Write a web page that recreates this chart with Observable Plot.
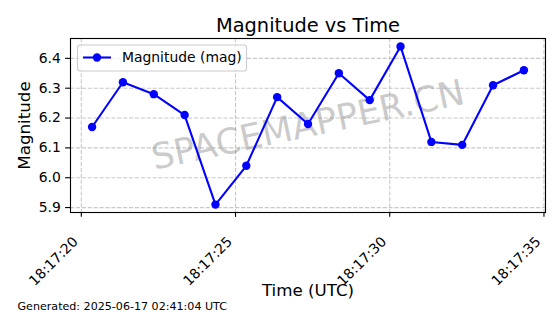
<!DOCTYPE html>
<html>
<head>
<meta charset="utf-8">
<script src="https://cdn.jsdelivr.net/npm/d3@7"></script>
<script src="https://cdn.jsdelivr.net/npm/@observablehq/plot@0.6"></script>
<style>
  html, body { margin: 0; padding: 0; background: white; }
  #chart svg { display: block; }
</style>
</head>
<body>
<div id="chart"></div>
<script>
// ---- data ----
const baseDate = "2025-06-16";
const times = ["18:17:20.35","18:17:21.35","18:17:22.35","18:17:23.35","18:17:24.35",
               "18:17:25.35","18:17:26.35","18:17:27.35","18:17:28.35","18:17:29.35",
               "18:17:30.35","18:17:31.35","18:17:32.35","18:17:33.35","18:17:34.35"];
const magnitudes = [6.17, 6.32, 6.28, 6.21, 5.91, 6.04, 6.27, 6.18, 6.35, 6.26, 6.44, 6.12, 6.11, 6.31, 6.36];
const xTickLabels = ["18:17:20","18:17:25","18:17:30","18:17:35"];
const yTickValues = [5.9, 6.0, 6.1, 6.2, 6.3, 6.4];
const titleText = "Magnitude vs Time";
const xLabel = "Time (UTC)";
const yLabel = "Magnitude";
const legendLabel = "Magnitude (mag)";
const watermark = "SPACEMAPPER.CN";
const footer = "Generated: 2025-06-17 02:41:04 UTC";

const parse = s => new Date(`${baseDate}T${s}Z`);
const data = times.map((t, i) => ({time: parse(t), mag: magnitudes[i]}));
const xTicks = xTickLabels.map(parse);

// matplotlib-like 5% autoscale margins
const [t0, t1] = d3.extent(data, d => +d.time);
const [m0, m1] = d3.extent(magnitudes);
const xDomain = [new Date(t0 - 0.05 * (t1 - t0)), new Date(t1 + 0.05 * (t1 - t0))];
const yDomain = [m0 - 0.05 * (m1 - m0), m1 + 0.05 * (m1 - m0)];

const fmt = d3.utcFormat("%H:%M:%S");
const blue = "#0000ff";
const font = "DejaVu Sans";

const chart = Plot.plot({
  width: 560,
  height: 314,
  marginLeft: 70,
  marginRight: 15,
  marginTop: 38,
  marginBottom: 102,
  style: {fontFamily: font, fontSize: "13.9px", background: "white", color: "black", overflow: "visible"},
  x: {type: "utc", domain: xDomain},
  y: {domain: yDomain},
  marks: [
    Plot.gridX(xTicks, {stroke: "#b0b0b0", strokeOpacity: 0.7, strokeWidth: 1.1, strokeDasharray: "4.1,1.8"}),
    Plot.gridY(yTickValues, {stroke: "#b0b0b0", strokeOpacity: 0.7, strokeWidth: 1.1, strokeDasharray: "4.1,1.8"}),
    Plot.text([watermark], {frameAnchor: "middle", text: d => d, rotate: -12, fontSize: 35.5, fill: "#808080", fillOpacity: 0.42}),
    Plot.line(data, {x: "time", y: "mag", stroke: blue, strokeWidth: 2.08}),
    Plot.dot(data, {x: "time", y: "mag", r: 4.2, fill: blue, stroke: "none"}),
    Plot.frame({stroke: "black", strokeWidth: 1.11}),
    Plot.axisX(xTicks, {tickSize: 4.86, tickFormat: () => "", label: null, strokeWidth: 1.11}),
    Plot.text(xTicks, {x: d => d, text: d => fmt(d), frameAnchor: "bottom", dy: 30, dx: -2.5, rotate: -45, textAnchor: "end", lineAnchor: "bottom", fontSize: 13.9}),
    Plot.axisY(yTickValues, {tickSize: 4.86, tickPadding: 4.86, tickFormat: d3.format(".1f"), label: null, fontSize: 13.9, strokeWidth: 1.11}),
    Plot.text([titleText], {frameAnchor: "top", text: d => d, dy: -7, lineAnchor: "bottom", fontSize: 19.4}),
    Plot.text([xLabel], {frameAnchor: "bottom", text: d => d, dy: 83, lineAnchor: "bottom", fontSize: 16.7}),
    Plot.text([yLabel], {frameAnchor: "left", text: d => d, dx: -41, rotate: -90, textAnchor: "middle", lineAnchor: "bottom", fontSize: 16.7}),
    Plot.text([footer], {frameAnchor: "bottom-left", text: d => d, dx: -53, dy: 97, textAnchor: "start", lineAnchor: "bottom", fontSize: 11.1})
  ]
});

document.getElementById("chart").appendChild(chart);

// legend (matplotlib style, upper-left inside axes)
const svg = d3.select(chart);
const lg = svg.append("g").attr("font-family", font).attr("font-size", 13.9).attr("text-anchor", "start");
lg.append("rect").attr("x", 77.5).attr("y", 45).attr("width", 169).attr("height", 26)
  .attr("rx", 2.5).attr("fill", "white").attr("fill-opacity", 0.8).attr("stroke", "#cccccc").attr("stroke-width", 1.11);
lg.append("line").attr("x1", 83).attr("x2", 111).attr("y1", 57.5).attr("y2", 57.5)
  .attr("stroke", blue).attr("stroke-width", 2.08);
lg.append("circle").attr("cx", 97).attr("cy", 57.5).attr("r", 4.2).attr("fill", blue);
lg.append("text").attr("x", 122).attr("y", 57.5).attr("dy", "0.35em").attr("text-anchor", "start").text(legendLabel);
</script>
</body>
</html>
